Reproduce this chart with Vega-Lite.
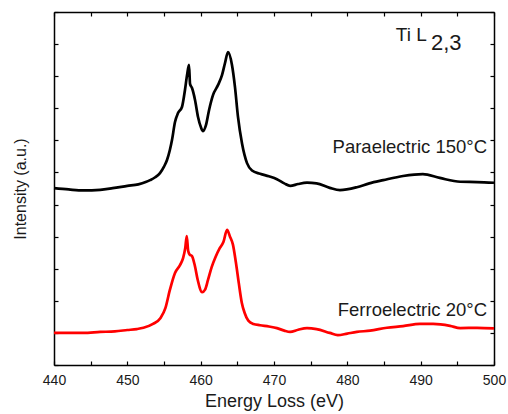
{
  "$schema": "https://vega.github.io/schema/vega-lite/v6.json",
  "width": 440,
  "height": 353,
  "autosize": {"type": "none"},
  "padding": {"left": 54, "top": 12, "right": 14, "bottom": 49},
  "config": {
    "view": {"stroke": null},
    "font": "Liberation Sans",
    "axis": {
      "domainColor": "#000000",
      "domainWidth": 1.5,
      "tickColor": "#000000",
      "tickWidth": 1.2,
      "grid": false,
      "labelColor": "#1a1a1a",
      "titleColor": "#1a1a1a",
      "labelFont": "Liberation Sans",
      "titleFont": "Liberation Sans",
      "titleFontWeight": "normal"
    }
  },
  "datasets": {
    "spectra": [
      {"phase": "Paraelectric", "energy": 440, "intensity": 55.1},
      {"phase": "Paraelectric", "energy": 442, "intensity": 54.7},
      {"phase": "Paraelectric", "energy": 444, "intensity": 54.4},
      {"phase": "Paraelectric", "energy": 446.3, "intensity": 54.6},
      {"phase": "Paraelectric", "energy": 448, "intensity": 55.1},
      {"phase": "Paraelectric", "energy": 450, "intensity": 55.8},
      {"phase": "Paraelectric", "energy": 451.5, "intensity": 56.3},
      {"phase": "Paraelectric", "energy": 452.5, "intensity": 57.0},
      {"phase": "Paraelectric", "energy": 453.1, "intensity": 57.6},
      {"phase": "Paraelectric", "energy": 453.8, "intensity": 58.5},
      {"phase": "Paraelectric", "energy": 454.45, "intensity": 59.8},
      {"phase": "Paraelectric", "energy": 455.0, "intensity": 61.8},
      {"phase": "Paraelectric", "energy": 455.41, "intensity": 63.9},
      {"phase": "Paraelectric", "energy": 455.8, "intensity": 67.0},
      {"phase": "Paraelectric", "energy": 456.09, "intensity": 70.1},
      {"phase": "Paraelectric", "energy": 456.5, "intensity": 75.7},
      {"phase": "Paraelectric", "energy": 456.91, "intensity": 78.5},
      {"phase": "Paraelectric", "energy": 457.45, "intensity": 80.4},
      {"phase": "Paraelectric", "energy": 457.86, "intensity": 85.7},
      {"phase": "Paraelectric", "energy": 458.14, "intensity": 90.3},
      {"phase": "Paraelectric", "energy": 458.41, "intensity": 93.5},
      {"phase": "Paraelectric", "energy": 458.55, "intensity": 87.6},
      {"phase": "Paraelectric", "energy": 458.82, "intensity": 86.3},
      {"phase": "Paraelectric", "energy": 459.23, "intensity": 82.6},
      {"phase": "Paraelectric", "energy": 459.64, "intensity": 77.3},
      {"phase": "Paraelectric", "energy": 460.05, "intensity": 74.0},
      {"phase": "Paraelectric", "energy": 460.32, "intensity": 72.9},
      {"phase": "Paraelectric", "energy": 460.73, "intensity": 74.8},
      {"phase": "Paraelectric", "energy": 461.14, "intensity": 79.4},
      {"phase": "Paraelectric", "energy": 461.68, "intensity": 84.1},
      {"phase": "Paraelectric", "energy": 462.36, "intensity": 87.2},
      {"phase": "Paraelectric", "energy": 462.91, "intensity": 90.3},
      {"phase": "Paraelectric", "energy": 463.32, "intensity": 94.1},
      {"phase": "Paraelectric", "energy": 463.73, "intensity": 97.5},
      {"phase": "Paraelectric", "energy": 464.27, "intensity": 93.5},
      {"phase": "Paraelectric", "energy": 464.68, "intensity": 86.6},
      {"phase": "Paraelectric", "energy": 465.09, "intensity": 77.3},
      {"phase": "Paraelectric", "energy": 465.64, "intensity": 69.0},
      {"phase": "Paraelectric", "energy": 466.32, "intensity": 62.9},
      {"phase": "Paraelectric", "energy": 467.0, "intensity": 60.6},
      {"phase": "Paraelectric", "energy": 468.1, "intensity": 59.6},
      {"phase": "Paraelectric", "energy": 469.3, "intensity": 58.8},
      {"phase": "Paraelectric", "energy": 470.4, "intensity": 57.9},
      {"phase": "Paraelectric", "energy": 471.4, "intensity": 56.6},
      {"phase": "Paraelectric", "energy": 472.2, "intensity": 55.8},
      {"phase": "Paraelectric", "energy": 473.3, "intensity": 56.4},
      {"phase": "Paraelectric", "energy": 474.5, "intensity": 56.8},
      {"phase": "Paraelectric", "energy": 475.8, "intensity": 56.6},
      {"phase": "Paraelectric", "energy": 477.6, "intensity": 55.2},
      {"phase": "Paraelectric", "energy": 479.0, "intensity": 54.5},
      {"phase": "Paraelectric", "energy": 481.3, "intensity": 55.4},
      {"phase": "Paraelectric", "energy": 483.0, "intensity": 56.6},
      {"phase": "Paraelectric", "energy": 484.9, "intensity": 57.6},
      {"phase": "Paraelectric", "energy": 487.6, "intensity": 58.9},
      {"phase": "Paraelectric", "energy": 490.3, "intensity": 59.5},
      {"phase": "Paraelectric", "energy": 492.6, "intensity": 58.3},
      {"phase": "Paraelectric", "energy": 495.4, "intensity": 57.1},
      {"phase": "Paraelectric", "energy": 497.7, "intensity": 57.0},
      {"phase": "Paraelectric", "energy": 500, "intensity": 56.8},
      {"phase": "Ferroelectric", "energy": 440, "intensity": 10.0},
      {"phase": "Ferroelectric", "energy": 444, "intensity": 10.0},
      {"phase": "Ferroelectric", "energy": 446.3, "intensity": 10.3},
      {"phase": "Ferroelectric", "energy": 448.3, "intensity": 10.5},
      {"phase": "Ferroelectric", "energy": 450, "intensity": 10.9},
      {"phase": "Ferroelectric", "energy": 451.3, "intensity": 11.2},
      {"phase": "Ferroelectric", "energy": 452.2, "intensity": 11.6},
      {"phase": "Ferroelectric", "energy": 453.5, "intensity": 12.8},
      {"phase": "Ferroelectric", "energy": 454.5, "intensity": 14.6},
      {"phase": "Ferroelectric", "energy": 455.2, "intensity": 17.8},
      {"phase": "Ferroelectric", "energy": 455.8, "intensity": 23.4},
      {"phase": "Ferroelectric", "energy": 456.5, "intensity": 28.7},
      {"phase": "Ferroelectric", "energy": 457.2, "intensity": 31.2},
      {"phase": "Ferroelectric", "energy": 457.6, "intensity": 33.3},
      {"phase": "Ferroelectric", "energy": 457.9, "intensity": 36.5},
      {"phase": "Ferroelectric", "energy": 458.1, "intensity": 40.2},
      {"phase": "Ferroelectric", "energy": 458.3, "intensity": 35.5},
      {"phase": "Ferroelectric", "energy": 458.5, "intensity": 34.4},
      {"phase": "Ferroelectric", "energy": 458.8, "intensity": 34.0},
      {"phase": "Ferroelectric", "energy": 459.2, "intensity": 31.0},
      {"phase": "Ferroelectric", "energy": 459.6, "intensity": 26.5},
      {"phase": "Ferroelectric", "energy": 460.2, "intensity": 22.7},
      {"phase": "Ferroelectric", "energy": 460.6, "intensity": 23.5},
      {"phase": "Ferroelectric", "energy": 461.0, "intensity": 26.5},
      {"phase": "Ferroelectric", "energy": 461.5, "intensity": 30.5},
      {"phase": "Ferroelectric", "energy": 462.0, "intensity": 33.5},
      {"phase": "Ferroelectric", "energy": 462.6, "intensity": 36.4},
      {"phase": "Ferroelectric", "energy": 463.1, "intensity": 38.3},
      {"phase": "Ferroelectric", "energy": 463.6, "intensity": 42.1},
      {"phase": "Ferroelectric", "energy": 464.0, "intensity": 40.0},
      {"phase": "Ferroelectric", "energy": 464.4, "intensity": 37.5},
      {"phase": "Ferroelectric", "energy": 464.8, "intensity": 32.0},
      {"phase": "Ferroelectric", "energy": 465.2, "intensity": 25.5},
      {"phase": "Ferroelectric", "energy": 465.6, "intensity": 19.5},
      {"phase": "Ferroelectric", "energy": 466.0, "intensity": 16.2},
      {"phase": "Ferroelectric", "energy": 466.5, "intensity": 13.8},
      {"phase": "Ferroelectric", "energy": 467.2, "intensity": 12.8},
      {"phase": "Ferroelectric", "energy": 468.1, "intensity": 12.4},
      {"phase": "Ferroelectric", "energy": 469.3, "intensity": 12.0},
      {"phase": "Ferroelectric", "energy": 470.4, "intensity": 11.5},
      {"phase": "Ferroelectric", "energy": 471.4, "intensity": 10.7},
      {"phase": "Ferroelectric", "energy": 472.2, "intensity": 10.3},
      {"phase": "Ferroelectric", "energy": 473.3, "intensity": 11.0},
      {"phase": "Ferroelectric", "energy": 474.5, "intensity": 11.5},
      {"phase": "Ferroelectric", "energy": 475.8, "intensity": 11.2},
      {"phase": "Ferroelectric", "energy": 477.6, "intensity": 10.0},
      {"phase": "Ferroelectric", "energy": 478.7, "intensity": 9.3},
      {"phase": "Ferroelectric", "energy": 480.0, "intensity": 9.8},
      {"phase": "Ferroelectric", "energy": 481.3, "intensity": 10.3},
      {"phase": "Ferroelectric", "energy": 483.1, "intensity": 10.7},
      {"phase": "Ferroelectric", "energy": 485.4, "intensity": 11.6},
      {"phase": "Ferroelectric", "energy": 487.6, "intensity": 12.1},
      {"phase": "Ferroelectric", "energy": 489.9, "intensity": 12.8},
      {"phase": "Ferroelectric", "energy": 491.7, "intensity": 12.8},
      {"phase": "Ferroelectric", "energy": 494.0, "intensity": 12.2},
      {"phase": "Ferroelectric", "energy": 495.4, "intensity": 11.5},
      {"phase": "Ferroelectric", "energy": 497.7, "intensity": 11.6},
      {"phase": "Ferroelectric", "energy": 500, "intensity": 11.4}
    ],
    "rightLabels": [
      {"label": "Paraelectric 150°C", "energy": 499.05, "intensity": 66.0},
      {"label": "Ferroelectric 20°C", "energy": 499.05, "intensity": 15.3}
    ],
    "titleMain": [
      {"label": "Ti L", "energy": 486.6, "intensity": 100.9}
    ],
    "titleSub": [
      {"label": "2,3", "energy": 491.4, "intensity": 98.1}
    ]
  },
  "layer": [
    {
      "data": {"name": "spectra"},
      "mark": {"type": "line", "strokeWidth": 2.7, "interpolate": "monotone"},
      "encoding": {
        "x": {
          "field": "energy", "type": "quantitative",
          "scale": {"domain": [440, 500], "nice": false, "zero": false},
          "axis": {
            "orient": "bottom",
            "values": [440, 445, 450, 455, 460, 465, 470, 475, 480, 485, 490, 495, 500],
            "labelExpr": "datum.value % 10 === 0 ? datum.label : ''",
            "tickSize": -4,
            "labelPadding": 12,
            "labelFontSize": 14,
            "labelFlush": false,
            "title": "Energy Loss (eV)",
            "titleFontSize": 18,
            "titlePadding": 5
          }
        },
        "y": {
          "field": "intensity", "type": "quantitative",
          "scale": {"domain": [0, 110], "nice": false, "zero": false},
          "axis": {
            "orient": "left",
            "values": [0, 10, 20, 30, 40, 50, 60, 70, 80, 90, 100, 110],
            "labels": false,
            "tickSize": -4,
            "title": "Intensity (a.u.)",
            "titleFontSize": 16,
            "titlePadding": 25
          }
        },
        "color": {
          "field": "phase", "type": "nominal",
          "scale": {"domain": ["Paraelectric", "Ferroelectric"], "range": ["#000000", "#ff0000"]},
          "legend": null
        }
      }
    },
    {
      "data": {"name": "spectra"},
      "mark": {"type": "line", "opacity": 0},
      "encoding": {
        "x": {
          "field": "energy", "type": "quantitative",
          "axis": {
            "orient": "top",
            "values": [440, 445, 450, 455, 460, 465, 470, 475, 480, 485, 490, 495, 500],
            "labels": false,
            "tickSize": -4,
            "title": null
          }
        },
        "y": {
          "field": "intensity", "type": "quantitative",
          "axis": {
            "orient": "right",
            "values": [0, 10, 20, 30, 40, 50, 60, 70, 80, 90, 100, 110],
            "labels": false,
            "tickSize": -4,
            "title": null
          }
        }
      }
    },
    {
      "data": {"name": "rightLabels"},
      "mark": {"type": "text", "align": "right", "baseline": "alphabetic", "fontSize": 18.5, "font": "Liberation Sans", "color": "#1a1a1a"},
      "encoding": {
        "x": {"field": "energy", "type": "quantitative", "axis": null},
        "y": {"field": "intensity", "type": "quantitative", "axis": null},
        "text": {"field": "label"}
      }
    },
    {
      "data": {"name": "titleMain"},
      "mark": {"type": "text", "align": "left", "baseline": "alphabetic", "fontSize": 19, "font": "Liberation Sans", "color": "#1a1a1a"},
      "encoding": {
        "x": {"field": "energy", "type": "quantitative", "axis": null},
        "y": {"field": "intensity", "type": "quantitative", "axis": null},
        "text": {"field": "label"}
      }
    },
    {
      "data": {"name": "titleSub"},
      "mark": {"type": "text", "align": "left", "baseline": "alphabetic", "fontSize": 22, "font": "Liberation Sans", "color": "#1a1a1a"},
      "encoding": {
        "x": {"field": "energy", "type": "quantitative", "axis": null},
        "y": {"field": "intensity", "type": "quantitative", "axis": null},
        "text": {"field": "label"}
      }
    }
  ],
  "resolve": {"axis": {"x": "independent", "y": "independent"}}
}
